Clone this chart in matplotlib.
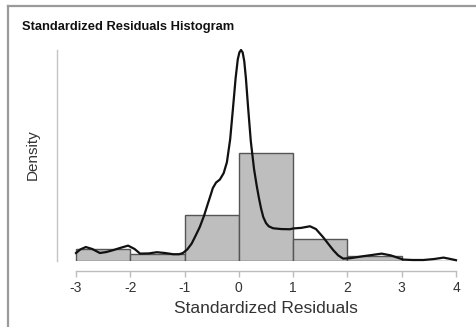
import numpy as np
import matplotlib.pyplot as plt
from matplotlib.lines import Line2D

plt.rcParams['font.family'] = ['Liberation Sans', 'DejaVu Sans']

# histogram (density scale), bins of width 1
bin_left = [-3, -2, -1, 0, 1, 2, 3]
bin_density = [0.062, 0.037, 0.228, 0.539, 0.110, 0.024, 0.0]

# kernel density curve
kde_x = [-3.0, -2.92, -2.82, -2.7, -2.56, -2.44, -2.32, -2.18, -2.04, -1.92, -1.82,
         -1.66, -1.51, -1.36, -1.21, -1.1, -1.03, -0.95, -0.87, -0.8, -0.72, -0.64,
         -0.57, -0.52, -0.48, -0.42, -0.35, -0.28, -0.22, -0.16, -0.11, -0.06, -0.02,
         0.01, 0.04, 0.07, 0.10, 0.13, 0.17, 0.22, 0.28, 0.33, 0.37, 0.41, 0.45, 0.50,
         0.55, 0.63, 0.78, 0.94, 1.0, 1.15, 1.31, 1.42, 1.55, 1.65, 1.74, 1.83, 1.92,
         2.05, 2.29, 2.45, 2.63, 2.8, 3.03, 3.2, 3.4, 3.6, 3.77, 3.9, 4.0]
kde_y = [0.040, 0.058, 0.070, 0.060, 0.040, 0.045, 0.054, 0.066, 0.077, 0.060, 0.037,
         0.038, 0.044, 0.040, 0.034, 0.034, 0.040, 0.058, 0.087, 0.125, 0.170, 0.228,
         0.288, 0.330, 0.365, 0.393, 0.408, 0.440, 0.495, 0.610, 0.760, 0.915, 1.010,
         1.045, 1.057, 1.045, 1.000, 0.915, 0.770, 0.600, 0.460, 0.375, 0.315, 0.262, 0.220,
         0.190, 0.174, 0.164, 0.160, 0.159, 0.163, 0.166, 0.174, 0.160, 0.120, 0.085, 0.054,
         0.028, 0.012, 0.014, 0.024, 0.030, 0.037, 0.028, 0.007, 0.005, 0.005, 0.010, 0.017,
         0.010, 0.004]

xticks = [-3, -2, -1, 0, 1, 2, 3, 4]

fig = plt.figure(figsize=(4.76, 3.27), dpi=100)
ax = fig.add_axes([57 / 476, 1 - 261 / 327, 418 / 476, 211 / 327])

ax.bar(bin_left, bin_density, width=1, align='edge', color='#bebebe',
       edgecolor='#555555', linewidth=1.0, zorder=2)
ax.plot(kde_x, kde_y, color='#111111', lw=1.6, zorder=3, clip_on=False,
        solid_joinstyle='round')

ax.set_xlim(-3.35, 4.35)
ax.set_ylim(0, 1.057)

for s in ['top', 'right']:
    ax.spines[s].set_visible(False)
ax.spines['left'].set_color('#c4c4c4')
ax.spines['left'].set_linewidth(1.0)
ax.set_yticks([])

ax.spines['bottom'].set_position(('outward', 7.4))
ax.spines['bottom'].set_bounds(-3, 4)
ax.spines['bottom'].set_color('#bdbdbd')
ax.spines['bottom'].set_linewidth(1.0)
ax.set_xticks(xticks)
ax.set_xticklabels([str(t) for t in xticks])
ax.tick_params(axis='x', length=4.3, width=1.0, color='#bdbdbd',
               labelsize=10, labelcolor='#333333', pad=3)

ax.set_xlabel('Standardized Residuals', fontsize=12.5, color='#333333', labelpad=4)
fig.text(33 / 476, 1 - 155 / 327, 'Density', rotation=90, fontsize=11,
         color='#333333', ha='center', va='center')

fig.text(22 / 476, 1 - 27 / 327, 'Standardized Residuals Histogram',
         fontsize=9.3, fontweight='bold', color='#111111', ha='left', va='center')

# frame of the panel (left and top edges visible)
fig.add_artist(Line2D([8 / 476, 8 / 476], [0, 1 - 6 / 327], transform=fig.transFigure,
                      color='#9a9a9a', lw=1.6))
fig.add_artist(Line2D([8 / 476, 1], [1 - 6 / 327, 1 - 6 / 327], transform=fig.transFigure,
                      color='#9a9a9a', lw=1.6))

fig.savefig('out.png', dpi=100)
